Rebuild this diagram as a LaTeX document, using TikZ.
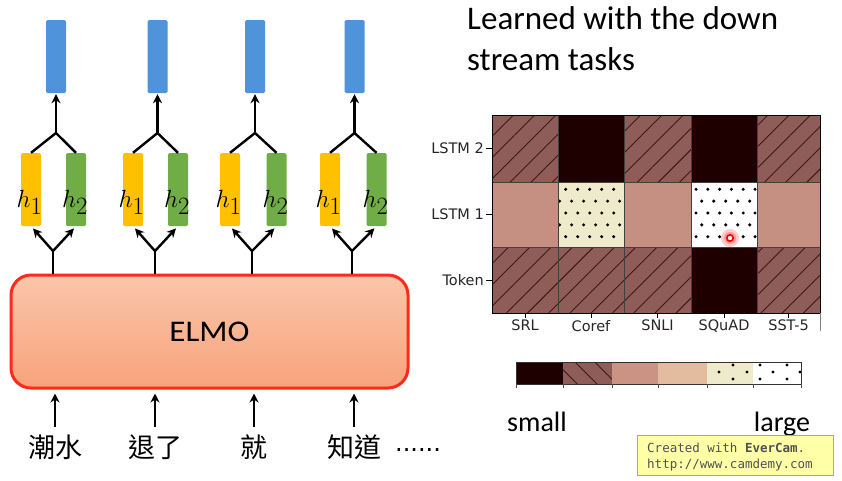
\documentclass[tikz,border=0pt]{standalone}
\usepackage{fontspec}
\setmainfont{Carlito}
\newfontfamily\cjk{Noto Sans CJK TC}
\newfontfamily\axf{DejaVu Sans}
\newfontfamily\wmf{DejaVu Sans Mono}
\usetikzlibrary{arrows.meta,patterns.meta}
\definecolor{barblue}{HTML}{4F93DB}
\definecolor{baryel}{HTML}{FFC000}
\definecolor{bargreen}{HTML}{70AD47}
\definecolor{hbrown}{HTML}{8E5D58}
\definecolor{hline}{HTML}{3A1A18}
\definecolor{hdark}{HTML}{1E0000}
\definecolor{hsalmon}{HTML}{C58F82}
\definecolor{hsalmonb}{HTML}{CB9383}
\definecolor{hcream}{HTML}{EFEACB}
\definecolor{hpeach}{HTML}{E3BB9F}
\definecolor{elmotop}{HTML}{FAC6AA}
\definecolor{elmobot}{HTML}{F7A37C}
\definecolor{elmored}{HTML}{FF2A1A}
\definecolor{wmyellow}{HTML}{FFFFA8}
\definecolor{wmtext}{HTML}{505050}
\definecolor{axtext}{HTML}{262626}
\tikzset{
  barbox/.style={minimum width=20pt, minimum height=73pt, inner sep=0pt, rounded corners=1.5pt},
  bluebar/.style={barbox, fill=barblue},
  yelbar/.style={barbox, fill=baryel},
  grnbar/.style={barbox, fill=bargreen},
  conn/.style={line width=2.4pt, line join=miter},
  arr/.style={line width=2.4pt, -{Stealth[length=9pt,width=9pt]}},
  hlabel/.style={font=\fontsize{35}{35}\selectfont, inner sep=0pt, anchor=base},
  word/.style={font=\cjk\fontsize{27}{27}\selectfont, inner sep=2pt},
  hatchcell/.style={fill=hbrown, postaction={pattern={Lines[angle=45,distance=15pt,line width=0.9pt]}, pattern color=hline}},
  ylab/.style={font=\axf\fontsize{14.5}{14.5}\selectfont, text=axtext, anchor=east, inner sep=0pt},
  xlab/.style={font=\axf\fontsize{14.5}{14.5}\selectfont, text=axtext, anchor=north, inner sep=0pt},
  bigtext/.style={font=\fontsize{28}{28}\selectfont, inner sep=0pt, anchor=base},
  titletext/.style={font=\fontsize{33}{33}\selectfont, inner sep=0pt, anchor=base west}
}
\begin{document}
\begin{tikzpicture}[x=1pt,y=-1pt]
\useasboundingbox (0,0) rectangle (842,480);
\fill[white] (0,0) rectangle (842,480);

% ELMO box
\node[draw=elmored, line width=3pt, rounded corners=20pt, top color=elmotop, bottom color=elmobot,
      minimum width=397pt, minimum height=113pt, inner sep=0pt] (elmo) at (209.5,331.5) {};
\node[font=\fontsize{30}{30}\selectfont, inner sep=0pt, anchor=base] (elmotext) at (209.5,341.5) {\scalebox{1.1}[1]{ELMO}};

% bar groups
\foreach \i/\bx/\yx/\gx/\sx/\wx/\wt in {1/56/31/76/53/55/潮水, 2/157.5/133/178/155/155/退了, 3/255/230/276.5/252/254/就, 4/354.5/330/376.5/352/354/知道}{
  \node[bluebar] (blue\i) at (\bx,56.5) {};
  \node[yelbar] (yel\i) at (\yx,189.5) {};
  \node[grnbar] (grn\i) at (\gx,189.5) {};
  \node[hlabel] (hA\i) at (\yx-1.5,207) {$h_1$};
  \node[hlabel] (hB\i) at (\gx-1,207) {$h_2$};
  \coordinate (tj\i) at (\bx,133);
  \draw[conn] (yel\i.north) -- (tj\i) -- (grn\i.north);
  \draw[arr, shorten >=1pt] (tj\i) -- (blue\i.south);
  \coordinate (bj\i) at (\sx,251);
  \draw[conn] (elmo.north -| bj\i) -- (bj\i);
  \draw[arr, shorten >=3pt] (bj\i) -- (yel\i.south);
  \draw[arr, shorten >=3pt] (bj\i) -- (grn\i.south);
  \node[word] (w\i) at (\wx,447) {\wt};
  \draw[arr, shorten <=5pt, shorten >=4pt] (w\i.north) -- (w\i.north |- elmo.south);
}
\node[font=\axf\fontsize{24}{24}\selectfont, inner sep=0pt, anchor=base] (dots) at (418,451) {......};

% title
\node[titletext] (title1) at (467,29) {Learned with the down};
\node[titletext] (title2) at (467,70) {stream tasks};

% heatmap cells
\fill[hatchcell] (492,115) rectangle (558,182);
\fill[hdark]     (558,115) rectangle (624,182);
\fill[hatchcell] (624,115) rectangle (691,182);
\fill[hdark]     (691,115) rectangle (757,182);
\fill[hatchcell] (757,115) rectangle (820,182);
\fill[hsalmon]   (492,182) rectangle (558,247);
\fill[hcream]    (558,182) rectangle (624,247);
\fill[hsalmon]   (624,182) rectangle (691,247);
\fill[white]     (691,182) rectangle (757,247);
\fill[hsalmon]   (757,182) rectangle (820,247);
\fill[hatchcell] (492,247) rectangle (558,313);
\fill[hatchcell] (558,247) rectangle (624,313);
\fill[hatchcell] (624,247) rectangle (691,313);
\fill[hdark]     (691,247) rectangle (757,313);
\fill[hatchcell] (757,247) rectangle (820,313);
% dots (Coref, LSTM 1)
\foreach \j in {0,2,4}{\foreach \i in {0,...,4}{\fill (565.7+12*\i,189.3+11.85*\j) circle (1.7pt);}}
\foreach \j in {1,3}{\foreach \i in {0,...,5}{\fill (559.6+12*\i,189.3+11.85*\j) circle (1.7pt);}}
% dots (SQuAD, LSTM 1)
\foreach \j in {0,2,4}{\foreach \i in {0,...,5}{\fill (696+11.8*\i,189.3+11.85*\j) circle (1.7pt);}}
\foreach \j in {1,3}{\foreach \i in {0,...,4}{\fill (701.7+12*\i,189.3+11.85*\j) circle (1.7pt);}}
% grid
\draw[black!75, line width=0.6pt] (558,115) -- (558,313) (624,115) -- (624,313) (691,115) -- (691,313) (757,115) -- (757,313)
  (492,182) -- (820,182) (492,247) -- (820,247);
\draw[black, line width=0.8pt] (492,115) rectangle (820,313);
\draw[black!50, line width=0.8pt] (820,313) -- (820,331);
% ticks and labels
\foreach \y/\t in {148.5/LSTM 2, 214.5/LSTM 1, 280/Token}{
  \draw[black, line width=0.8pt] (486,\y) -- (492,\y);
  \node[ylab] at (484,\y) {\t};
}
\foreach \x/\t in {525/SRL, 591/Coref, 657.5/SNLI, 724/SQuAD, 788.5/SST-5}{
  \draw[black, line width=0.8pt] (\x,313) -- (\x,318);
  \node[xlab] at (\x,320) {\t};
}
% cursor highlight
\fill[red!20] (730,238) circle (9pt);
\fill[red!40] (730,238) circle (6pt);
\draw[red, line width=1.6pt, fill=white] (730,238) circle (3.2pt);

% colour bar
\fill[hdark]  (516,362) rectangle (563,384);
\fill[hbrown, postaction={pattern={Lines[angle=-45,distance=14pt,line width=0.9pt]}, pattern color=hline}] (563,362) rectangle (612,384);
\fill[hsalmonb] (612,362) rectangle (658,384);
\fill[hpeach] (658,362) rectangle (707,384);
\fill[hcream] (707,362) rectangle (753,384);
\fill[white]  (753,362) rectangle (801,384);
\foreach \p in {(733,365),(719,372),(747,372),(733,379),(760,365),(787,365),(773,372),(760,379),(787,379),(800,372)}{\fill \p circle (1.7pt);}
\draw[black!80, line width=0.6pt] (516,362) rectangle (801,384);
\foreach \x in {516,563,612,658,707,753,801}{\draw[black!70, line width=0.6pt] (\x,384) -- (\x,388);}
\node[bigtext] (small) at (537,431.5) {small};
\node[bigtext] (large) at (782,431.5) {large};

% watermark
\node[draw=black!35, fill=wmyellow, minimum width=196pt, minimum height=40pt, inner sep=0pt] (wm) at (735,455) {};
\node[font=\wmf\fontsize{12.5}{12.5}\selectfont, text=wmtext, anchor=base west, inner sep=0pt] (wm1) at (647,452) {Created with \textbf{EverCam}.};
\node[font=\wmf\fontsize{12.5}{12.5}\selectfont, text=wmtext, anchor=base west, inner sep=0pt] (wm2) at (647,468) {http://www.camdemy.com};
\end{tikzpicture}
\end{document}
